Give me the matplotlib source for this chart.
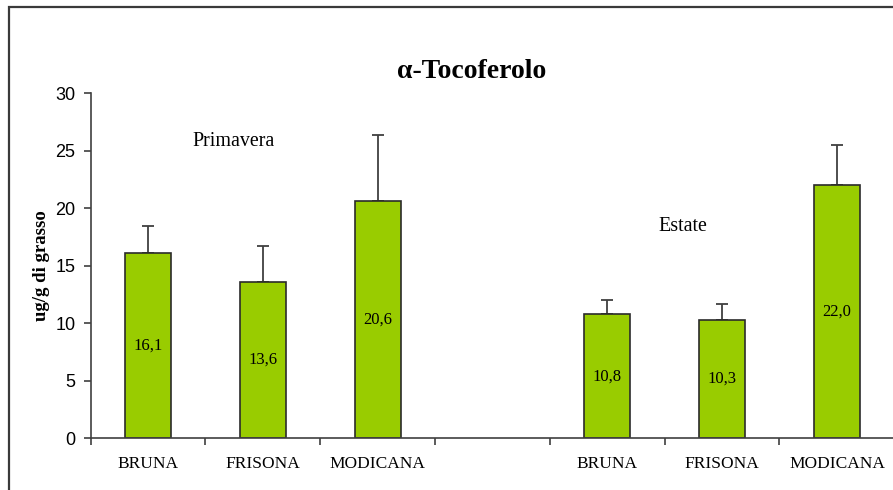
import matplotlib

matplotlib.use("Agg")

import matplotlib.pyplot as plt
import numpy as np
from matplotlib.patches import Rectangle

# categorie: Primavera (3), vuoto, Estate (3)
categories = ["BRUNA", "FRISONA", "MODICANA", "", "BRUNA", "FRISONA", "MODICANA"]
values = [16.1, 13.6, 20.6, np.nan, 10.8, 10.3, 22.0]
errors = [2.4, 3.1, 5.8, np.nan, 1.2, 1.4, 3.5]
value_labels = ["16,1", "13,6", "20,6", "", "10,8", "10,3", "22,0"]
y_ticks = [0, 5, 10, 15, 20, 25, 30]

SERIF = "Liberation Serif"
SANS = "Liberation Sans"

fig = plt.figure(figsize=(8.93, 4.90), dpi=100)
ax = fig.add_axes([90.7 / 893, 1 - 438.3 / 490, (894.3 - 90.7) / 893, 345 / 490])

x = np.arange(len(categories))
mask = ~np.isnan(values)
ax.bar(x[mask], np.array(values)[mask], width=0.40, color="#99CC00",
       edgecolor="#2b2b2b", linewidth=1.2, zorder=2)
ax.errorbar(x[mask], np.array(values)[mask],
            yerr=[np.zeros(mask.sum()), np.array(errors)[mask]],
            fmt="none", ecolor="#404040", elinewidth=1.3, capsize=4, capthick=1.3,
            zorder=1)

for xi, v, lab in zip(x, values, value_labels):
    if lab:
        ax.text(xi, v / 2, lab, ha="center", va="center", fontsize=12,
                family=SERIF, color="black", zorder=3)

ax.set_xlim(-0.5, len(categories) - 0.5)
ax.set_ylim(0, 30)
ax.set_yticks(y_ticks)
ax.set_yticklabels([str(t) for t in y_ticks], family=SANS, fontsize=13)

# tick sui confini delle categorie, etichette al centro
ax.set_xticks(np.arange(len(categories) + 1) - 0.5)
ax.set_xticklabels([])
ax.set_xticks(x, minor=True)
ax.set_xticklabels(categories, minor=True, family=SERIF, fontsize=12.5)
ax.tick_params(axis="x", which="minor", length=0, pad=13)
ax.tick_params(axis="x", which="major", direction="out", length=5, width=1.2, color="#404040")
ax.tick_params(axis="y", direction="out", length=5, width=1.2, color="#404040", pad=6)

for side in ["top", "right"]:
    ax.spines[side].set_visible(False)
for side in ["left", "bottom"]:
    ax.spines[side].set_linewidth(1.2)
    ax.spines[side].set_color("#404040")

ax.set_ylabel("ug/g di grasso", family=SERIF, fontweight="bold", fontsize=13.5, labelpad=4)

ax.text(0.74, 25.8, "Primavera", family=SERIF, fontsize=14.4, ha="center", va="center")
ax.text(4.66, 18.4, "Estate", family=SERIF, fontsize=14.4, ha="center", va="center")

fig.text(472 / 893, 1 - 72 / 490, "α-Tocoferolo", family=SERIF, fontweight="bold",
         fontsize=20, ha="center", va="center")

# cornice del grafico (tagliata a destra e in basso)
fig.patches.append(Rectangle((9.3 / 893, -0.1), 1.2, 1 - 7 / 490 + 0.1,
                             transform=fig.transFigure, fill=False,
                             edgecolor="#3a3a3a", linewidth=1.6))

fig.savefig("out.png", dpi=100)
